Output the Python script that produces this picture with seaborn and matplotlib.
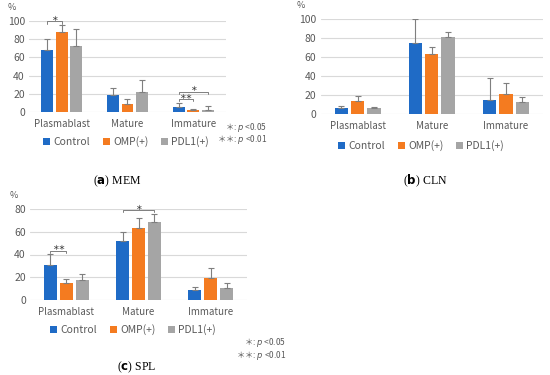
import numpy as np
import pandas as pd
import matplotlib
matplotlib.use("Agg")
import matplotlib.pyplot as plt
import seaborn as sns
from matplotlib.patches import Patch
from matplotlib.container import BarContainer

sns.set_theme(style="white")
plt.rcParams['font.family'] = ['Noto Sans CJK JP', 'DejaVu Sans']
plt.rcParams['mathtext.fontset'] = 'dejavusans'

categories = ["Plasmablast", "Mature", "Immature"]
groups = ["Control", "OMP(+)", "PDL1(+)"]
colors = ["#1F6BC6", "#F47B20", "#A5A5A5"]

# (a) MEM
mem_control = [68.0, 19.0, 5.8]
mem_omp = [87.6, 8.4, 2.2]
mem_pdl1 = [72.0, 21.5, 2.2]
mem_control_sd = [12.7, 7.0, 4.0]
mem_omp_sd = [7.7, 6.0, 1.4]
mem_pdl1_sd = [19.6, 13.5, 4.8]

# (b) CLN
cln_control = [6.0, 75.0, 14.4]
cln_omp = [14.0, 62.8, 21.4]
cln_pdl1 = [6.0, 80.7, 12.3]
cln_control_sd = [2.4, 25.0, 23.8]
cln_omp_sd = [5.3, 8.1, 11.2]
cln_pdl1_sd = [1.7, 6.0, 5.2]

# (c) SPL
spl_control = [30.6, 51.5, 8.5]
spl_omp = [14.7, 63.2, 19.4]
spl_pdl1 = [17.6, 68.5, 10.9]
spl_control_sd = [10.0, 8.2, 3.3]
spl_omp_sd = [3.8, 9.2, 8.5]
spl_pdl1_sd = [5.4, 7.4, 4.4]

# significance brackets: (category index, group a, group b, y, label)
mem_sig = [(0, 0, 1, 99.5, "＊"), (2, 0, 1, 14.3, "＊＊"), (2, 0, 2, 22.5, "＊")]
spl_sig = [(0, 0, 1, 43.5, "＊＊"), (1, 0, 2, 79.0, "＊")]
sig_note = "＊: $\\it{p}$ <0.05\n＊＊: $\\it{p}$ <0.01"

W, H = 550, 375
fig = plt.figure(figsize=(W / 100, H / 100), dpi=100)
fig.patch.set_facecolor("white")

tick_color = "#595959"


def px_axes(x0, x1, y_top, y_bot):
    return fig.add_axes([x0 / W, 1 - y_bot / H, (x1 - x0) / W, (y_bot - y_top) / H])


def panel(ax, means, sds, ymax, sig, caption_letter, caption_name, cap_xy, leg_xy, pct_xy):
    df = pd.DataFrame({
        "cat": np.repeat([categories], len(groups), axis=0).ravel(),
        "grp": np.repeat(groups, len(categories)),
        "val": np.concatenate(means),
    })
    sns.barplot(data=df, x="cat", y="val", hue="grp", order=categories, hue_order=groups,
                palette=colors, width=0.66, gap=0.18, errorbar=None, legend=False,
                saturation=1, ax=ax)
    bar_conts = [c for c in ax.containers if isinstance(c, BarContainer)]
    centers = {}
    for gi, cont in enumerate(bar_conts):
        for ci, bar in enumerate(cont):
            bar.set_edgecolor("none")
            xc = bar.get_x() + bar.get_width() / 2
            top = bar.get_height()
            centers[(ci, gi)] = xc
            ax.errorbar(xc, top, yerr=[[0], [sds[gi][ci]]], color="#7F7F7F", lw=0.8,
                        capsize=2.2, capthick=0.8, zorder=3)
    ax.set_ylim(0, ymax)
    ax.set_xlim(-0.5, 2.5)
    ax.set_yticks(np.arange(0, ymax + 1, 20))
    ax.yaxis.grid(True, color="#D9D9D9", lw=0.8)
    ax.set_axisbelow(True)
    for s in ax.spines.values():
        s.set_visible(False)
    ax.tick_params(axis="y", length=0, labelsize=7.5, colors=tick_color, pad=3)
    ax.tick_params(axis="x", length=0, labelsize=7, colors=tick_color, pad=5)
    ax.set_xlabel("")
    ax.set_ylabel("")
    tick = ymax * 0.025
    for ci, ga, gb, y, lab in sig:
        xa, xb = centers[(ci, ga)], centers[(ci, gb)]
        ax.plot([xa, xa, xb, xb], [y - tick, y, y, y - tick], color="#7F7F7F", lw=0.7,
                clip_on=False, zorder=4)
        ax.text((xa + xb) / 2, y + ymax * 0.004, lab, ha="center", va="baseline", fontsize=4.8,
                color="#404040", clip_on=False, fontweight="bold")
    fig.text(pct_xy[0] / W, 1 - pct_xy[1] / H, "%", fontsize=6.5, color=tick_color,
             ha="center", va="center")
    handles = [Patch(facecolor=c, edgecolor="none", label=g) for c, g in zip(colors, groups)]
    fig.legend(handles=handles, loc="center", bbox_to_anchor=(leg_xy[0] / W, 1 - leg_xy[1] / H),
               ncol=3, frameon=False, fontsize=7.5, handlelength=0.7, handleheight=0.7,
               handletextpad=0.3, columnspacing=1.2, labelcolor=tick_color)
    fig.text(cap_xy[0] / W, 1 - cap_xy[1] / H,
             r"($\mathbf{" + caption_letter + r"}$) " + caption_name,
             family="Liberation Serif", fontsize=8.5, ha="center", va="center", color="black")


ax_a = px_axes(29, 226, 21, 112)
panel(ax_a, [mem_control, mem_omp, mem_pdl1], [mem_control_sd, mem_omp_sd, mem_pdl1_sd],
      100, mem_sig, "a", "MEM", (117, 181), (126, 142), (12, 7))
fig.text(267 / W, 1 - 133.5 / H, sig_note, fontsize=6, color=tick_color, ha="right", va="center",
         multialignment="right", linespacing=0.95)

ax_b = px_axes(320.5, 543, 19, 114)
panel(ax_b, [cln_control, cln_omp, cln_pdl1], [cln_control_sd, cln_omp_sd, cln_pdl1_sd],
      100, [], "b", "CLN", (425, 181), (421, 146), (301, 6))

ax_c = px_axes(30, 247, 209, 300)
panel(ax_c, [spl_control, spl_omp, spl_pdl1], [spl_control_sd, spl_omp_sd, spl_pdl1_sd],
      80, spl_sig, "c", "SPL", (137, 367), (133, 330), (14, 195))
fig.text(286 / W, 1 - 349 / H, sig_note, fontsize=6, color=tick_color, ha="right", va="center",
         multialignment="right", linespacing=0.95)

fig.savefig("out.png", dpi=100, facecolor="white")
